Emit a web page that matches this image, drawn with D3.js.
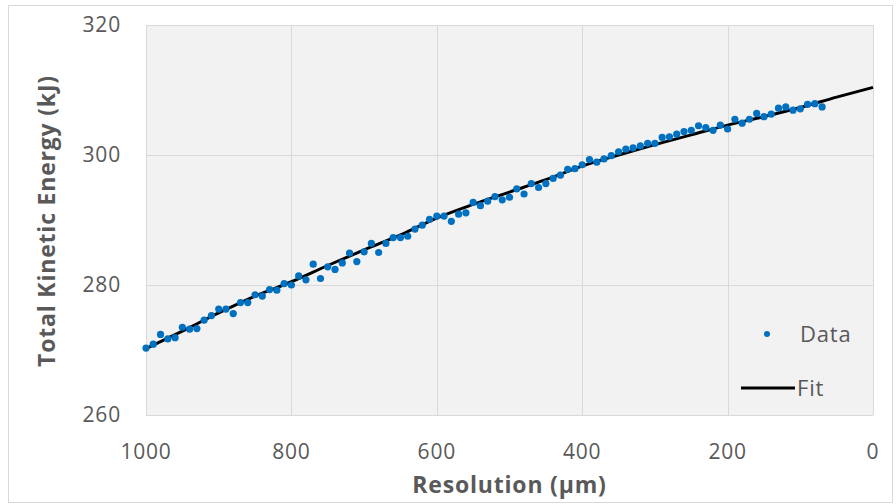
<!DOCTYPE html>
<html lang="en">
<head>
<meta charset="utf-8">
<script src="https://cdn.jsdelivr.net/npm/d3@7"></script>
<style type="text/css">
body { margin: 0; background: #fff; }
text { font-family: "Open Sans", sans-serif; fill: #595959; }
</style>
</head>
<body>
<script type="text/javascript">

// measured points: resolution (um) vs total kinetic energy (kJ)
var resolution = [1000, 990, 980, 970, 960, 950, 940, 930, 920, 910,
                  900, 890, 880, 870, 860, 850, 840, 830, 820, 810,
                  800, 790, 780, 770, 760, 750, 740, 730, 720, 710,
                  700, 690, 680, 670, 660, 650, 640, 630, 620, 610,
                  600, 590, 580, 570, 560, 550, 540, 530, 520, 510,
                  500, 490, 480, 470, 460, 450, 440, 430, 420, 410,
                  400, 390, 380, 370, 360, 350, 340, 330, 320, 310,
                  300, 290, 280, 270, 260, 250, 240, 230, 220, 210,
                  200, 190, 180, 170, 160, 150, 140, 130, 120, 110,
                  100, 90, 80, 70];
var energy = [270.3, 270.9, 272.4, 271.7, 271.9, 273.5, 273.2, 273.3, 274.6, 275.3,
              276.3, 276.3, 275.6, 277.3, 277.3, 278.5, 278.3, 279.3, 279.2, 280.2,
              280.0, 281.4, 280.8, 283.2, 281.0, 282.8, 282.4, 283.4, 284.9, 283.6,
              285.1, 286.4, 285.0, 286.4, 287.3, 287.3, 287.5, 288.6, 289.2, 290.1,
              290.6, 290.6, 289.8, 290.9, 291.1, 292.7, 292.2, 292.9, 293.6, 293.1,
              293.5, 294.8, 294.0, 295.6, 295.0, 295.6, 296.4, 296.9, 297.8, 297.9,
              298.5, 299.3, 298.9, 299.4, 299.9, 300.5, 300.9, 301.1, 301.4, 301.8,
              301.8, 302.7, 302.8, 303.2, 303.6, 303.8, 304.5, 304.2, 303.8, 304.6,
              304.0, 305.5, 304.9, 305.5, 306.4, 305.9, 306.3, 307.2, 307.4, 306.9,
              307.1, 307.8, 307.9, 307.4];

// fit curve
var fitResolution = [1000, 950, 900, 850, 800, 750, 700, 650, 600, 550, 500,
                     450, 400, 350, 300, 250, 200, 150, 100, 50, 0];
var fitEnergy = [270.2, 272.9, 275.7, 278.3, 280.5, 283.0, 285.4, 287.7, 290.3, 292.4, 294.3,
                 296.2, 298.3, 300.0, 301.6, 303.1, 304.6, 305.9, 307.3, 308.9, 310.4];

var xTicks = [1000, 800, 600, 400, 200, 0];
var yTicks = [260, 280, 300, 320];

var width = 896, height = 504;
var plot = {left: 146, top: 25, right: 873, bottom: 415};

var svg = d3.select("body").append("svg")
            .attr("width", width)
            .attr("height", height);

// chart border
svg.append("rect")
   .attr("x", 8.5).attr("y", 5.5)
   .attr("width", 884).attr("height", 497)
   .style("fill", "#fff")
   .style("stroke", "#d9d9d9");

var x = d3.scaleLinear().domain([1000, 0]).range([plot.left, plot.right]);
var y = d3.scaleLinear().domain([260, 320]).range([plot.bottom, plot.top]);

// plot area
svg.append("rect")
   .attr("x", plot.left).attr("y", plot.top)
   .attr("width", plot.right - plot.left)
   .attr("height", plot.bottom - plot.top)
   .style("fill", "#f2f2f2");

// gridlines
svg.selectAll("line.vgrid").data(xTicks).enter().append("line")
   .attr("class", "vgrid")
   .attr("x1", function(d) { return Math.round(x(d)) + 0.5; })
   .attr("x2", function(d) { return Math.round(x(d)) + 0.5; })
   .attr("y1", plot.top).attr("y2", plot.bottom)
   .style("stroke", "#d9d9d9");

svg.selectAll("line.hgrid").data(yTicks).enter().append("line")
   .attr("class", "hgrid")
   .attr("y1", function(d) { return Math.round(y(d)) + 0.5; })
   .attr("y2", function(d) { return Math.round(y(d)) + 0.5; })
   .attr("x1", plot.left).attr("x2", plot.right)
   .style("stroke", "#d9d9d9");

// tick labels
svg.selectAll("text.xtick").data(xTicks).enter().append("text")
   .attr("class", "xtick")
   .attr("x", function(d) { return x(d); })
   .attr("y", 459)
   .attr("text-anchor", "middle")
   .style("font-size", "21px")
   .style("letter-spacing", "0.8px")
   .text(function(d) { return d; });

svg.selectAll("text.ytick").data(yTicks).enter().append("text")
   .attr("class", "ytick")
   .attr("x", 121)
   .attr("y", function(d) { return y(d) + 7; })
   .attr("text-anchor", "end")
   .style("font-size", "21px")
   .style("letter-spacing", "0.8px")
   .text(function(d) { return d; });

// fit line
var line = d3.line()
             .x(function(d, i) { return x(fitResolution[i]); })
             .y(function(d) { return y(d); })
             .curve(d3.curveMonotoneX);

svg.append("path")
   .attr("d", line(fitEnergy))
   .style("fill", "none")
   .style("stroke", "#000")
   .style("stroke-width", 3);

// data points
svg.selectAll("circle.pt").data(energy).enter().append("circle")
   .attr("class", "pt")
   .attr("cx", function(d, i) { return x(resolution[i]); })
   .attr("cy", function(d) { return y(d); })
   .attr("r", 3.6)
   .style("fill", "#0070c0");

// axis titles
svg.append("text")
   .attr("x", x(500)).attr("y", 493)
   .attr("text-anchor", "middle")
   .style("font-size", "23px")
   .style("font-weight", "bold")
   .style("letter-spacing", "0.8px")
   .text("Resolution (\u00b5m)");

svg.append("text")
   .attr("transform", "translate(55,221) rotate(-90)")
   .attr("text-anchor", "middle")
   .style("font-size", "23px")
   .style("font-weight", "bold")
   .style("letter-spacing", "0.8px")
   .text("Total Kinetic Energy (kJ)");

// legend
var legend = svg.append("g");
legend.append("circle")
      .attr("cx", 767).attr("cy", 334).attr("r", 3)
      .style("fill", "#0070c0");
legend.append("text")
      .attr("x", 800).attr("y", 342)
      .style("font-size", "22px")
      .style("letter-spacing", "0.8px")
      .text("Data");
legend.append("line")
      .attr("x1", 741).attr("x2", 795)
      .attr("y1", 388).attr("y2", 388)
      .style("stroke", "#000")
      .style("stroke-width", 3);
legend.append("text")
      .attr("x", 797).attr("y", 396)
      .style("font-size", "22px")
      .style("letter-spacing", "0.8px")
      .text("Fit");

</script>
</body>
</html>
